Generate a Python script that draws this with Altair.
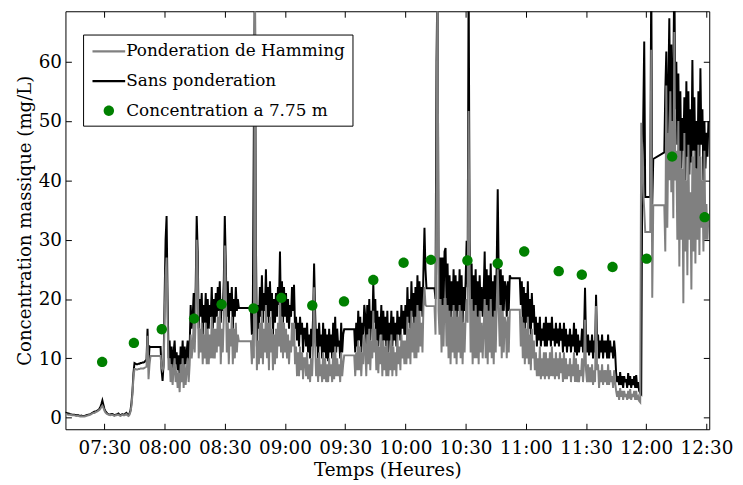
import altair as alt
import pandas as pd

# ---------------- data ----------------
# one value every half minute, from minute 10 (07:10) to minute 331 (12:31); None = no data (gap)
start_minute = 10
step_minute = 0.5

black_vals = [
    0.9, 0.85, 0.8, 0.75, 0.7, 0.65, 0.6, 0.55, 0.5, 0.5,
    0.5, 0.45, 0.4, 0.45, 0.4, 0.35, 0.3, 0.35, 0.3, 0.3,
    0.3, 0.35, 0.4, 0.45, 0.5, 0.55, 0.6, 0.7, 0.8, 0.9,
    1.0, 1.05, 1.1, 1.2, 1.3, 1.5, 1.8, 2.3, 2.9, 2.2,
    1.5, 1.1, 0.9, 0.7, 0.6, 0.55, 0.5, 0.6, 0.6, 0.5,
    0.4, 0.5, 0.5, 0.6, 0.7, 0.5, 0.4, 0.5, 0.6, 0.5,
    0.5, 0.7, 0.8, 0.5, 0.4, 0.7, 1.2, 2.5, 4.5, 7.5,
    9.2, 9.1, 9.0, 9.0, 9.1, 9.1, 9.2, 9.2, 9.3, 9.3,
    9.4, 9.6, 9.8, 15.0, 9.0, 12, 11.9, None, None, None,
    None, None, None, None, None, None, 11.9, 8, 6.2, 9,
    20, 30, 34, 20, 10, 13, 9, 12, 8, 11,
    13, 9, 11, 8, 10.5, 7, 12, 9, 13, 8,
    12, 9, 11, 13, 9, 12, 19, 15, 17, 21,
    16, 22, 34, 28, 15, 20, 17, 21, 14, 19,
    16, 21, 14, 20, 15, 19, 17, 22, 15, 20,
    16, 21, 17, 22, 18, 23, 16, 20, 18, 23,
    34, 26, 17, 23, 16, 21, 18, 22, 15, 20,
    17, 22, 18, 20, 18.5, None, None, None, None, None,
    None, None, None, None, None, None, 18.5, 14, 20, 50,
    75, 30, 12, 19, 15, 22, 17, 24, 16, 21,
    18, 25, 17, 22, 15, 23, 18, 21, 14, 20,
    16, 21, 17, 22, 19, 28, 17, 23, 16, 22,
    17, 21, 16, 20, 15, 19, 17, 22, 18, 22.4,
    15, 17, 13, 16, 12, 17, 14, 16, 11, 15,
    15, 12, 16, 11, 14, 10, 15, 12, 17, 26,
    18, 12, 15, 10, 16, 12, 14, 10, 16, 11,
    15, 10, 14, 9.5, 15, 11, 14, 10, 16, 11,
    17, 11, 15, 12, 13, 10, 16, 11, 14, 14.9,
    None, None, None, None, None, None, None, None, None, 14.9,
    11, 16, 12, 18, 13, 17, 11, 16, 14, 19,
    17, 12, 19, 14, 20, 13, 18, 15, 22.7, 16,
    20, 13, 18, 12, 17, 14, 19, 12, 18, 13,
    17, 12, 18, 11, 16, 13, 18, 12, 17, 13,
    16, 12, 18, 14, 17, 13, 19, 15, 18, 14,
    19, 14, 22, 16, 20, 15, 23, 17, 21, 15,
    22, 16, 24, 17, 23, 18, 22, 17, 25, 32,
    25, 21.8, None, None, None, None, None, None, None, 21.8,
    20, 60, 75, 27, 20, 27, 18, 27, 19, 28,
    28.6, 19, 26, 17, 24, 16, 23, 18, 25, 17,
    24, 16, 23, 18, 25, 17, 24, 16, 22, 18,
    23, 29.8, 22, 75, 30, 19, 26, 16, 24, 18,
    25, 17, 23, 16, 24, 18, 22, 17, 21, 28,
    17, 25, 16, 24, 18, 26, 17, 23, 16, 24,
    18, 26, 38.5, 24, 19, 25, 17, 24, 18, 23,
    22, 17, 23, 18, 24, 23.5, None, None, None, None,
    None, None, None, None, 23.5, 19, 23, 16, 22, 15,
    21, 16, 23, 15, 20, 14, 21, 16, 19, 14,
    17, 12, 16, 13, 17, 12, 15, 13, 16, 12,
    17, 12, 16, 13, 16, 12, 17, 13, 15, 12,
    16, 12.5, 15, 12, 16, 13, 15, 11, 16, 12,
    15, 11, 14, 12, 15, 11, 14, 12, 16, 11,
    15, 10.5, 14, 11, 13, 12, 15, 11, 14, 21.9,
    13, 11, 14, 10.5, 13, 11, 14, 10, 13, 11,
    20.7, 13, 14, 10, 13, 11, 14, 10, 13, 11,
    13, 10, 14, 10, 13, 11, 12, 10, 13, 11,
    7.5, 6, 7, 5.5, 7.7, 5.5, 7, 5, 7, 6,
    6.5, 5, 7.5, 5.5, 7, 5, 6.5, 5.5, 7, 5,
    7.2, 5, 6, 4.5, 4.2, 4, 40, 50, 63.4, 37.2,
    None, None, None, None, 37.2, 75, 36, 43.6, None, None,
    None, None, None, None, None, None, None, None, 44.7, 55,
    61.7, 45, 55, 67.3, 50, 62.9, 48, 58, 75, 52,
    60, 46, 58, 44, 55, 42, 50.5, 45, 54, 40,
    56.7, 44, 55, 41, 52, 43, 60.3, 45, 54, 42,
    50, 41, 55, 44, 58.9, 46, 52, 40, 50, 42,
    48, 44, 50,
]

gray_vals = [
    0.7, 0.65, 0.6, 0.55, 0.5, 0.5, 0.5, 0.45, 0.4, 0.4,
    0.4, 0.35, 0.3, 0.35, 0.3, 0.25, 0.2, 0.25, 0.2, 0.2,
    0.2, 0.25, 0.3, 0.35, 0.4, 0.45, 0.5, 0.6, 0.7, 0.8,
    0.8, 0.9, 1.0, 1.05, 1.2, 1.3, 1.5, 1.8, 2.0, 1.7,
    1.2, 0.9, 0.7, 0.6, 0.5, 0.45, 0.4, 0.5, 0.5, 0.4,
    0.3, 0.4, 0.4, 0.5, 0.5, 0.4, 0.3, 0.4, 0.5, 0.4,
    0.4, 0.5, 0.6, 0.4, 0.3, 0.5, 1.0, 2.0, 4.0, 6.8,
    8.2, 8.2, 8.1, 8.1, 8.2, 8.2, 8.3, 8.3, 8.3, 8.3,
    8.4, 8.5, 8.6, 13.8, 6.5, 9, 10.4, None, None, None,
    None, None, None, None, None, None, 10.4, 8.5, 8, 8.5,
    16, 24, 27, 16, 8, 10, 6, 9, 5.5, 8,
    10, 6, 8, 5, 7.5, 4.3, 9, 6, 10, 5,
    9, 5.5, 8, 10, 6, 9, 14, 10, 12, 16,
    11, 17, 30, 24, 10, 15, 11, 16, 9, 14,
    10, 16, 9, 15, 9, 14, 10, 17, 10, 15,
    10, 15, 11, 17, 12, 18, 9, 15, 11, 17,
    29, 22, 11, 16, 9, 15, 12, 17, 9, 15,
    10, 16, 11, 14, 12.9, None, None, None, None, None,
    None, None, None, None, None, None, 12.9, 9, 14, 10,
    80, 20, 8, 13, 9, 16, 10, 18, 9, 15,
    11, 19, 10, 16, 8, 17, 11, 15, 8, 14,
    9, 15, 10, 16, 12, 21, 11, 17, 10, 16,
    11, 15, 10, 14, 9, 13, 11, 16, 12, 16,
    9, 12, 7, 11, 7, 12, 8, 11, 6.5, 10,
    10, 7, 11, 6.5, 9, 6, 10, 7, 12, 22,
    13, 7, 10, 6, 11, 7, 9, 6, 11, 6.5,
    10, 6, 9, 6, 10, 7, 9, 6, 11, 6.5,
    12, 7, 10, 7, 9, 6, 11, 7, 9, 10.5,
    None, None, None, None, None, None, None, None, None, 10.5,
    7, 11, 8, 13, 8, 12, 7, 11, 9, 14,
    12, 7, 14, 9, 15, 8, 13, 10, 18, 11,
    15, 8, 13, 7.5, 12, 9, 14, 7, 13, 8,
    12, 7, 13, 7, 11, 8, 14, 7, 12, 8,
    11, 7, 14, 9, 12, 8, 14, 10, 13, 9,
    13, 9, 17, 10, 15, 9, 18, 11, 16, 10,
    17, 10, 19, 11, 18, 12, 16, 11, 19, 22,
    19, 18.8, None, None, None, None, None, None, None, 18.8,
    14, 40, 80, 18, 14, 20, 11, 19, 12, 20,
    20, 12, 19, 10, 18, 9, 17, 11, 19, 10,
    18, 9, 17, 11, 19, 10, 18, 9, 16, 11,
    17, 20, 16, 51.7, 25, 11, 20, 9, 18, 10,
    19, 10, 17, 9, 18, 11, 16, 10, 15, 20,
    10, 19, 9, 18, 11, 20, 10, 17, 9, 18,
    11, 19, 25, 18, 12, 19, 10, 18, 11, 17,
    16, 10, 17, 11, 18, 18.2, None, None, None, None,
    None, None, None, None, 18.2, 12, 17, 10, 16, 9,
    15, 10, 17, 9, 14, 8, 15, 10, 13, 8,
    11, 7, 10, 7, 12, 6.5, 10, 7, 11, 6.5,
    11, 7, 10, 6.5, 11, 7, 12, 7, 10, 6.5,
    11, 7, 10, 6.5, 11, 7.5, 10, 6, 11, 6.5,
    10, 6.5, 9, 7, 10, 6, 9, 7, 11, 6,
    10, 6, 9, 6, 8, 7, 10, 6, 9, 16.5,
    8, 6, 9, 6, 8.5, 6, 9, 5.5, 8, 6,
    18.8, 8, 9, 5, 8, 6, 9, 5.5, 8, 6,
    8, 5.5, 9, 5.5, 8, 6, 7, 5, 8, 6,
    4.5, 3.5, 4.5, 3, 5, 3.5, 4.5, 3, 4.5, 3.5,
    4, 3, 4.5, 3.2, 4.8, 3, 4, 3.5, 4.5, 3,
    4.5, 3, 3.5, 2.8, 2.6, 49.7, 45, 38, 35, 31.3,
    None, None, None, None, 31.3, 62, 20.2, 35.8, None, None,
    None, None, None, None, None, None, None, None, 35.8, 28,
    56, 32, 48, 40, 55, 38, 50, 33.6, 65, 40,
    45, 30, 50, 25.5, 45, 30, 42, 19.3, 48, 28,
    40, 24, 46, 30, 38, 21.6, 44, 28, 45, 26,
    42, 30, 46, 27.4, 44, 32, 40, 28, 45, 30,
    36, 30, 34,
]

# green points: time in minutes after 07:00, concentration in mg/L
dot_minutes = [28.9, 44.7, 58.6, 74.7, 88.4, 104.3, 118.2, 133.6, 149.4, 164.0, 179.1,
               192.7, 210.9, 226.0, 239.2, 256.4, 267.9, 283.2, 300.2, 312.9, 329.1]
dot_values = [9.4, 12.6, 14.9, 16.7, 19.1, 18.4, 20.2, 18.9, 19.6, 23.2, 26.1,
              26.6, 26.5, 26.0, 28.0, 24.7, 24.1, 25.4, 26.8, 44.0, 33.8]

x_tick_minutes = [30, 60, 90, 120, 150, 180, 210, 240, 270, 300, 330]
x_tick_labels = ["07:30", "08:00", "08:30", "09:00", "09:30", "10:00",
                 "10:30", "11:00", "11:30", "12:00", "12:30"]
y_ticks = [0, 10, 20, 30, 40, 50, 60]

series_names = ["Ponderation de Hamming", "Sans ponderation", "Concentration a 7.75 m"]
series_colors = ["#808080", "#000000", "#008000"]

# ---------------- tables ----------------
df_black = pd.DataFrame([{"t": start_minute + i * step_minute, "v": v}
                         for i, v in enumerate(black_vals) if v is not None])
df_gray = pd.DataFrame([{"t": start_minute + i * step_minute, "v": v}
                        for i, v in enumerate(gray_vals) if v is not None])
df_dots = pd.DataFrame({"t": dot_minutes, "v": dot_values,
                        "series": [series_names[2]] * len(dot_minutes)})

label_expr = " : ".join(f"datum.value == {m} ? '{s}'"
                        for m, s in zip(x_tick_minutes, x_tick_labels)) + " : ''"

FONT = "DejaVu Serif"
xs = alt.Scale(domain=[10.6, 331.4], nice=False, zero=False)
ys = alt.Scale(domain=[-1.95, 68.5], nice=False, zero=False)

common_axis = dict(offset=-6, tickSize=6, domain=False, grid=False,
                   tickColor="black", tickWidth=1)

x_bottom = alt.Axis(orient="bottom", values=x_tick_minutes, labelExpr=label_expr,
                    title="Temps (Heures)", labelPadding=10, titlePadding=3.5,
                    labelFont=FONT, labelFontSize=18.5, titleFont=FONT, titleFontSize=18.5,
                    titleFontWeight="normal", labelColor="black", titleColor="black",
                    labelFlush=False, labelOverlap=False, **common_axis)
y_left = alt.Axis(orient="left", values=y_ticks, title="Concentration massique (mg/L)",
                  labelPadding=4, titlePadding=4,
                  labelFont=FONT, labelFontSize=18.5, titleFont=FONT, titleFontSize=18.3,
                  titleFontWeight="normal", labelColor="black", titleColor="black",
                  **common_axis)
x_top = alt.Axis(orient="top", values=x_tick_minutes, labels=False, title=None, **common_axis)
y_right = alt.Axis(orient="right", values=y_ticks, labels=False, title=None, **common_axis)

black = alt.Chart(df_black).mark_line(color="#000000", strokeWidth=2, clip=True).encode(
    x=alt.X("t:Q", scale=xs, axis=x_bottom),
    y=alt.Y("v:Q", scale=ys, axis=y_left),
)
gray = alt.Chart(df_gray).mark_line(color="#808080", strokeWidth=2, clip=True).encode(
    x=alt.X("t:Q", scale=xs, axis=x_top),
    y=alt.Y("v:Q", scale=ys, axis=y_right),
)

line_path = "M-1.65,-0.12L1.65,-0.12L1.65,0.12L-1.65,0.12Z"
circle_path = "M-0.525,0A0.525,0.525,0,1,0,0.525,0A0.525,0.525,0,1,0,-0.525,0Z"

legend = alt.Legend(title=None, orient="none", legendX=17.8, legendY=23.5,
                    strokeColor="black", fillColor="white", padding=7,
                    symbolSize=400, symbolOffset=9, symbolStrokeWidth=0,
                    labelOffset=7.5, labelFont=FONT, labelFontSize=17, labelColor="black",
                    rowPadding=12, labelLimit=400)

dots = alt.Chart(df_dots).mark_point(filled=True, size=400, opacity=1).encode(
    x=alt.X("t:Q", scale=xs, axis=None),
    y=alt.Y("v:Q", scale=ys, axis=None),
    color=alt.Color("series:N", scale=alt.Scale(domain=series_names, range=series_colors),
                    legend=legend),
    shape=alt.Shape("series:N", scale=alt.Scale(domain=series_names,
                                                range=[line_path, line_path, circle_path]),
                    legend=legend),
)

chart = alt.layer(black, gray, dots).resolve_axis(x="independent", y="independent").properties(
    width=650, height=422,
    autosize=alt.AutoSizeParams(type="none"),
    padding={"left": 58, "top": 1, "right": 26, "bottom": 54},
    background="white",
).configure(font=FONT).configure_view(stroke="black", strokeWidth=1)

chart.save("out.html", embed_options={"renderer": "svg", "actions": False})
